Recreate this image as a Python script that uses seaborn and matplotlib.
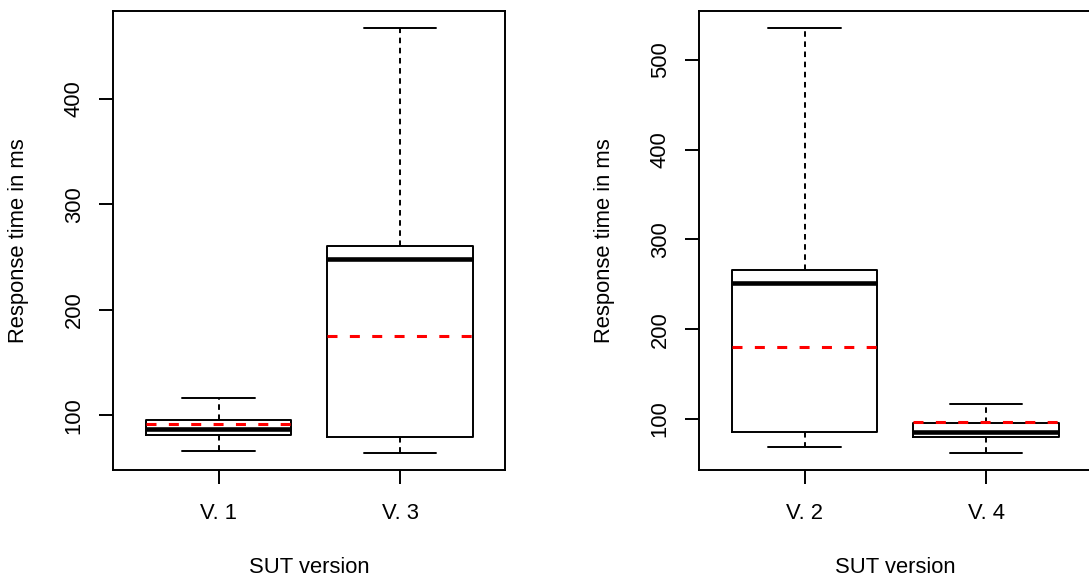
import matplotlib
matplotlib.use("Agg")
import matplotlib.pyplot as plt
from matplotlib.ticker import MultipleLocator
import numpy as np
import pandas as pd
import seaborn as sns

# Five-number summaries (lower whisker, Q1, median, Q3, upper whisker) in ms
versions_left = ["V. 1", "V. 3"]
v1_summary = [66.5, 81.5, 87.5, 95.5, 116.5]
v3_summary = [64.5, 80.0, 248.0, 260.0, 467.0]
means_left = [91.7, 175.0]

versions_right = ["V. 2", "V. 4"]
v2_summary = [68.5, 85.8, 252.0, 266.0, 536.0]
v4_summary = [62.0, 79.5, 85.5, 95.0, 117.0]
means_right = [180.0, 96.5]

x_title = "SUT version"
y_title = "Response time in ms"

sns.set_style("white")
plt.rcParams["font.family"] = ["Liberation Sans", "DejaVu Sans"]
plt.rcParams["lines.scale_dashes"] = False

FS = 15.8
LW = 1.4

fig = plt.figure(figsize=(10.89, 5.80), dpi=100)
ax_l = fig.add_axes([113.3 / 1089, 110 / 580, 392 / 1089, 459.3 / 580])
ax_r = fig.add_axes([699.3 / 1089, 110 / 580, 392 / 1089, 459.3 / 580])


def panel(ax, names, summaries, means):
    df = pd.DataFrame({
        "version": np.repeat(names, [len(s) for s in summaries]),
        "ms": np.concatenate(summaries),
    })
    sns.boxplot(
        data=df, x="version", y="ms", order=names, ax=ax,
        whis=(0, 100), width=0.8, fill=False, color="black",
        linecolor="black", linewidth=LW,
        boxprops={"linewidth": LW, "color": "black", "zorder": 2},
        medianprops={"linewidth": 3.3, "color": "black", "zorder": 3},
        whiskerprops={"linewidth": LW, "color": "black",
                      "linestyle": (0, (4.0, 3.3))},
        capprops={"linewidth": LW, "color": "black"},
    )
    # mean of each version as a red dashed line across the box
    for i, m in enumerate(means):
        ax.hlines(m, i - 0.4, i + 0.4, colors="#ff0000", linewidth=2.2,
                  linestyles=[(0, (7.2, 8.9))], zorder=4)

    lo = min(s[0] for s in summaries)
    hi = max(s[-1] for s in summaries)
    pad = 0.04 * (hi - lo)
    ax.set_ylim(lo - pad, hi + pad)
    ax.set_xlim(-0.58, 1.58)
    ax.yaxis.set_major_locator(MultipleLocator(100))

    for side in ["left", "right", "top", "bottom"]:
        ax.spines[side].set_visible(True)
        ax.spines[side].set_color("black")
        ax.spines[side].set_linewidth(LW)

    ax.tick_params(axis="both", which="major", direction="out", length=10,
                   width=LW, color="black", labelsize=FS, labelcolor="black",
                   left=True, bottom=True, right=False, top=False)
    ax.tick_params(axis="y", labelrotation=90, pad=10.5)
    ax.tick_params(axis="x", pad=13.5)
    for lab in ax.get_yticklabels():
        lab.set_va("center")

    ax.set_xlabel(x_title, fontsize=FS, color="black")
    ax.set_ylabel(y_title, fontsize=FS, color="black")
    ax.xaxis.set_label_coords(0.5, -0.19)
    ax.yaxis.set_label_coords(-0.214, 0.5)


panel(ax_l, versions_left, [v1_summary, v3_summary], means_left)
panel(ax_r, versions_right, [v2_summary, v4_summary], means_right)

fig.savefig("out.png", dpi=100, facecolor="white")
